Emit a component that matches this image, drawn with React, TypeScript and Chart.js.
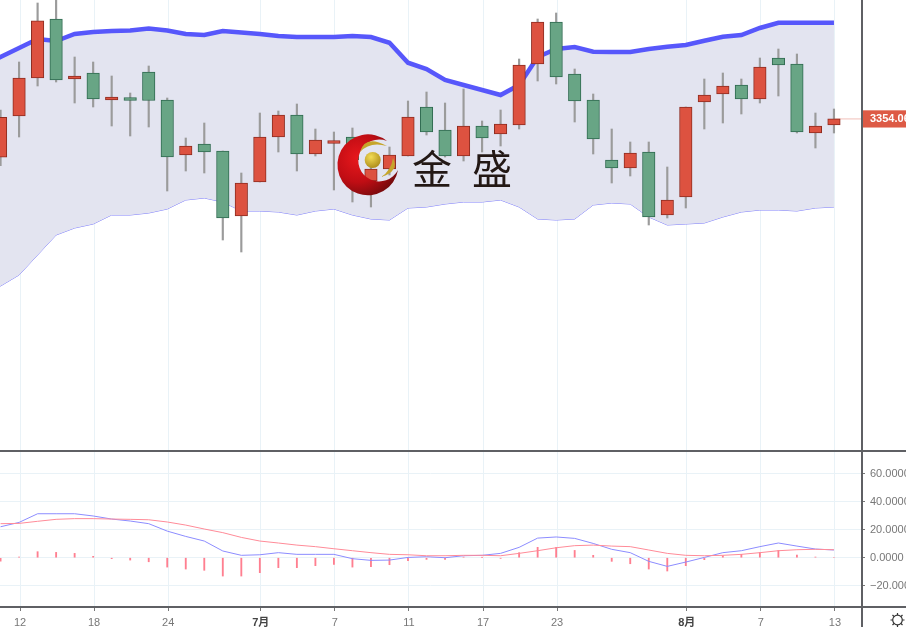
import React, { useEffect, useRef } from "react";
import { Chart, registerables } from "chart.js";

Chart.register(...registerables);

const opens = [3323.4, 3356.4, 3386.8, 3434.0, 3386.0, 3390.8, 3369.2, 3370.8, 3391.6, 3369.2, 3325.2, 3334.0, 3328.4, 3276.4, 3303.6, 3339.6, 3357.2, 3326.0, 3334.4, 3339.6, 3304.4, 3314.0, 3324.4, 3363.6, 3345.2, 3324.4, 3348.4, 3342.0, 3349.2, 3398.0, 3431.6, 3390.0, 3369.2, 3321.2, 3314.8, 3327.6, 3277.2, 3291.6, 3367.6, 3374.0, 3381.2, 3370.0, 3402.8, 3398.0, 3342.8, 3349.2];
const closes = [3355.4, 3386.8, 3432.6, 3385.2, 3388.4, 3370.0, 3370.8, 3368.8, 3368.8, 3323.6, 3332.4, 3327.6, 3274.8, 3302.8, 3339.6, 3357.2, 3326.0, 3337.2, 3336.4, 3321.2, 3314.0, 3325.2, 3355.6, 3343.6, 3324.4, 3348.4, 3338.8, 3350.0, 3397.2, 3431.6, 3387.6, 3368.4, 3338.0, 3314.8, 3326.8, 3275.6, 3289.2, 3363.6, 3373.2, 3380.4, 3370.0, 3395.6, 3397.2, 3343.6, 3348.4, 3354.06];
const highs = [3361.2, 3399.6, 3446.8, 3453.2, 3403.6, 3399.6, 3388.4, 3374.8, 3396.4, 3370.8, 3338.8, 3350.8, 3328.4, 3310.8, 3358.8, 3360.4, 3366.0, 3346.0, 3343.6, 3346.8, 3325.2, 3331.6, 3368.4, 3375.6, 3366.8, 3378.0, 3352.4, 3361.2, 3402.0, 3434.0, 3438.8, 3394.0, 3374.0, 3346.0, 3335.6, 3335.6, 3315.6, 3363.6, 3386.0, 3390.8, 3386.0, 3402.8, 3410.0, 3406.0, 3358.8, 3362.0];
const lows = [3316.6, 3339.6, 3380.4, 3383.6, 3366.8, 3363.6, 3348.4, 3340.4, 3347.6, 3296.4, 3312.4, 3310.8, 3257.2, 3247.6, 3303.6, 3327.6, 3312.4, 3324.4, 3297.2, 3287.6, 3283.6, 3309.2, 3324.4, 3341.2, 3323.6, 3320.4, 3327.6, 3332.4, 3346.0, 3384.4, 3382.0, 3351.6, 3326.0, 3302.8, 3308.4, 3269.2, 3274.8, 3282.8, 3346.0, 3350.8, 3358.0, 3366.8, 3372.4, 3342.8, 3330.8, 3342.8];

// The three band lists start one session before the first candle, which is just off the left edge.
const bollUpper = [3397.0, 3403.6, 3410.8, 3418.0, 3416.4, 3422.0, 3423.6, 3424.4, 3424.8, 3426.4, 3424.8, 3422.0, 3421.2, 3424.4, 3423.2, 3422.0, 3420.4, 3419.6, 3419.6, 3419.6, 3420.4, 3419.6, 3415.0, 3399.0, 3394.0, 3385.2, 3381.2, 3377.2, 3373.2, 3381.2, 3403.6, 3410.0, 3411.6, 3407.8, 3407.6, 3407.6, 3410.0, 3411.8, 3413.2, 3416.6, 3419.8, 3421.2, 3426.8, 3431.0, 3431.0, 3431.0, 3431.0];
const bollLower = [3212.0, 3220.4, 3229.2, 3245.2, 3261.2, 3266.8, 3270.0, 3277.2, 3277.2, 3278.8, 3282.0, 3289.2, 3290.8, 3287.6, 3280.4, 3280.4, 3279.6, 3277.2, 3280.4, 3282.0, 3277.2, 3274.0, 3273.2, 3282.8, 3283.6, 3286.0, 3287.6, 3287.6, 3289.2, 3283.6, 3274.0, 3273.2, 3274.0, 3285.2, 3286.8, 3286.0, 3275.6, 3269.2, 3270.0, 3270.8, 3275.6, 3279.6, 3281.2, 3281.2, 3280.4, 3282.8, 3283.6];
const bollMid = [3304.0, 3311.6, 3321.2, 3333.2, 3339.6, 3344.4, 3346.8, 3350.0, 3350.8, 3352.4, 3354.0, 3355.6, 3355.6, 3354.8, 3350.8, 3350.0, 3350.0, 3349.2, 3350.0, 3350.0, 3349.2, 3346.8, 3344.4, 3341.2, 3338.8, 3335.6, 3334.8, 3332.4, 3331.6, 3332.4, 3337.2, 3340.4, 3342.8, 3346.0, 3346.6, 3346.6, 3342.0, 3340.4, 3341.2, 3343.6, 3347.6, 3351.6, 3354.0, 3355.6, 3356.4, 3357.2, 3357.2];

const macdDif = [22.1, 25.2, 31.4, 31.4, 31.4, 29.8, 27.6, 26.2, 24.3, 19.0, 15.2, 11.9, 4.8, 1.7, 2.1, 3.6, 2.4, 2.4, 2.4, -0.7, -1.9, -1.7, 0.2, 0.7, 0.0, 1.4, 1.7, 3.1, 7.4, 14.0, 14.8, 13.8, 10.2, 6.0, 3.6, -2.6, -6.2, -3.1, 0.2, 3.6, 5.0, 7.9, 10.5, 8.3, 6.2, 5.5];
const macdDea = [24.3, 24.5, 26.0, 27.4, 27.9, 27.9, 27.6, 27.4, 27.1, 25.5, 23.3, 20.5, 17.9, 14.5, 11.9, 10.5, 9.0, 7.9, 6.4, 5.0, 3.6, 2.4, 2.1, 1.4, 1.4, 1.7, 1.7, 1.4, 3.1, 5.0, 7.1, 8.6, 9.0, 8.3, 7.9, 5.5, 3.1, 1.7, 1.4, 1.7, 2.4, 3.6, 5.0, 5.7, 6.0, 5.7];
const macdHist = [-2.4, 0.5, 4.3, 3.8, 3.1, 1.0, -0.7, -1.7, -2.9, -6.7, -8.1, -9.0, -13.1, -13.1, -10.7, -7.1, -7.1, -5.7, -4.8, -6.7, -6.4, -5.0, -2.1, -1.2, -1.2, 0.5, 0.2, -0.5, 3.6, 7.4, 7.4, 5.2, 1.7, -2.6, -4.3, -8.1, -9.5, -5.7, -1.4, 1.4, 2.4, 3.8, 5.2, 1.9, 0.5, 0.0];

const tickIndexes = [1, 5, 9, 14, 18, 22, 26, 30, 37, 41, 45];
const tickLabels = ["12", "18", "24", "7月", "7", "11", "17", "23", "8月", "7", "13"];
const macdTicks = [60, 40, 20, 0, -20];

const RED = "#dd5240";
const RED_EDGE = "#8e2c20";
const GREEN = "#68a585";
const GREEN_EDGE = "#2f6a50";
const FONT = "Arial, 'Liberation Sans', 'Noto Sans CJK SC', sans-serif";
const GRID = "#e9f2f7";

const fitRightAxis = (scale: any) => {
  scale.width = 45;
  scale.paddingTop = 0;
  scale.paddingBottom = 0;
  scale.paddingLeft = 0;
  scale.paddingRight = 0;
};
const xBounds = { min: -0.03, max: 46.46 };
const series = (values: number[], start = 0) => values.map((y, i) => ({ x: i + start, y }));
const xTicks = (scale: any) => {
  scale.ticks = tickIndexes.map((value) => ({ value: value + 0.05 }));
};

export default function App() {
  const priceRef = useRef<HTMLCanvasElement>(null);
  const macdRef = useRef<HTMLCanvasElement>(null);

  useEffect(() => {
    document.body.style.margin = "0";
    const last = closes[closes.length - 1];
    const isUp = closes.map((c, i) => c >= opens[i]);
    const price = new Chart(priceRef.current as HTMLCanvasElement, {
      type: "bar",
      data: {
        datasets: [
          {
            type: "line",
            data: series(bollUpper, -1),
            borderColor: "#5757fb",
            borderWidth: 4.5,
            pointRadius: 0,
            tension: 0,
            backgroundColor: "#e3e4f0",
            fill: "+1",
            order: 6,
          },
          {
            type: "line",
            data: series(bollLower, -1),
            borderColor: "#7f7ffb",
            borderWidth: 1,
            pointRadius: 0,
            tension: 0,
            fill: false,
            order: 7,
          },
          {
            type: "line",
            data: series(bollMid, -1),
            borderColor: "#9fe3cf",
            borderWidth: 1,
            pointRadius: 0,
            tension: 0,
            fill: false,
            order: 8,
          },
          {
            type: "line",
            data: [
              { x: xBounds.min, y: last },
              { x: xBounds.max, y: last },
            ],
            borderColor: "rgba(225,110,95,0.45)",
            borderWidth: 1,
            pointRadius: 0,
            fill: false,
            order: 9,
          },
          {
            type: "bar",
            data: lows.map((l, x) => ({ x, y: [l, highs[x]] })),
            backgroundColor: "#9b9b9b",
            barThickness: 1.5,
            grouped: false,
            order: 5,
          },
          {
            type: "bar",
            data: opens.map((o, x) => ({ x, y: [Math.min(o, closes[x]), Math.max(o, closes[x])] })),
            backgroundColor: isUp.map((u) => (u ? RED : GREEN)),
            borderColor: isUp.map((u) => (u ? RED_EDGE : GREEN_EDGE)),
            borderWidth: 1,
            borderSkipped: false,
            barThickness: 12.5,
            minBarLength: 3,
            grouped: false,
            order: 4,
          },
        ] as any,
      },
      options: {
        animation: false,
        responsive: false,
        layout: { padding: 0 },
        plugins: { legend: { display: false }, tooltip: { enabled: false } },
        scales: {
          x: {
            type: "linear",
            ...xBounds,
            offset: false,
            grid: { color: GRID, drawTicks: false, offset: false },
            border: { display: false },
            ticks: { display: false },
            afterBuildTicks: xTicks,
            afterFit: (s: any) => {
              s.height = 0;
              s.paddingLeft = 0;
              s.paddingRight = 0;
            },
          },
          y: {
            position: "right",
            min: 3089.2,
            max: 3449.2,
            grid: { display: false, drawTicks: false },
            border: { display: false },
            afterBuildTicks: (s: any) => {
              s.ticks = [{ value: last }];
            },
            afterFit: fitRightAxis,
            ticks: {
              padding: 9,
              color: "#ffffff",
              font: { family: FONT, size: 11, weight: "bold" },
              showLabelBackdrop: true,
              backdropColor: "#dd5a45",
              backdropPadding: { top: 2, bottom: 2, left: 8, right: 8 },
              callback: (v: any) => Number(v).toFixed(2),
            },
          },
        } as any,
      },
    });

    const macd = new Chart(macdRef.current as HTMLCanvasElement, {
      type: "bar",
      data: {
        datasets: [
          {
            type: "line",
            data: series(macdDea),
            borderColor: "#ff8b98",
            borderWidth: 1,
            pointRadius: 0,
            tension: 0,
            fill: false,
            order: 2,
          },
          {
            type: "line",
            data: series(macdDif),
            borderColor: "#8c8cff",
            borderWidth: 1,
            pointRadius: 0,
            tension: 0,
            fill: false,
            order: 3,
          },
          {
            type: "bar",
            data: series(macdHist),
            backgroundColor: "#ff7f90",
            barThickness: 1.2,
            grouped: false,
            order: 4,
          },
        ] as any,
      },
      options: {
        animation: false,
        responsive: false,
        layout: { padding: 0 },
        plugins: { legend: { display: false }, tooltip: { enabled: false } },
        scales: {
          x: {
            type: "linear",
            ...xBounds,
            offset: false,
            grid: { color: GRID, tickColor: "#777777", tickLength: 4, offset: false },
            border: { display: false },
            afterBuildTicks: xTicks,
            afterFit: (s: any) => {
              s.height = 20;
              s.paddingLeft = 0;
              s.paddingRight = 0;
            },
            ticks: {
              autoSkip: false,
              maxRotation: 0,
              padding: 5,
              color: (ctx: any) => (String(tickLabels[ctx.index]).includes("月") ? "#444444" : "#777777"),
              font: (ctx: any) => ({
                family: FONT,
                size: 11,
                weight: String(tickLabels[ctx.index]).includes("月") ? "bold" : "normal",
              }),
              callback: (_v: any, i: number) => tickLabels[i],
            },
          },
          y: {
            position: "right",
            min: -35.2,
            max: 76.2,
            grid: { color: GRID, tickColor: "#777777", tickLength: 4 },
            border: { display: false },
            afterBuildTicks: (s: any) => {
              s.ticks = macdTicks.map((value) => ({ value }));
            },
            afterFit: fitRightAxis,
            ticks: {
              padding: 5,
              color: "#777777",
              font: { family: FONT, size: 11 },
              callback: (v: any) => (Number(v) < 0 ? "\u2212" + Math.abs(Number(v)).toFixed(4) : Number(v).toFixed(4)),
            },
          },
        } as any,
      },
    });
    return () => {
      price.destroy();
      macd.destroy();
    };
  }, []);

  const abs = (left: number, top: number, width: number, height: number, extra: any = {}) => ({
    position: "absolute" as const,
    left,
    top,
    width,
    height,
    ...extra,
  });

  return (
    <div style={abs(0, 0, 906, 627, { overflow: "hidden", background: "#fff", filter: "blur(0.45px)" })}>
      <canvas ref={priceRef} width={906} height={450} style={abs(0, 0, 906, 450, { display: "block" })} />
      <canvas ref={macdRef} width={906} height={176} style={abs(0, 451, 906, 176, { display: "block" })} />
      <div style={abs(0, 450, 906, 2, { background: "#5f6064" })} />
      <div style={abs(0, 606, 906, 1.5, { background: "#5f6064" })} />
      <div style={abs(861, 0, 1.5, 627, { background: "#5f6064" })} />
      <svg width={906} height={627} style={abs(0, 0, 906, 627, { pointerEvents: "none" })}>
        <defs>
          <radialGradient id="logoRed" gradientUnits="userSpaceOnUse" cx="358" cy="158" r="44">
            <stop offset="0" stopColor="#e8181c" />
            <stop offset="0.55" stopColor="#c00d14" />
            <stop offset="1" stopColor="#6e0a0c" />
          </radialGradient>
          <radialGradient id="logoGold" gradientUnits="userSpaceOnUse" cx="371" cy="157" r="11">
            <stop offset="0" stopColor="#f3dc55" />
            <stop offset="1" stopColor="#b08f1c" />
          </radialGradient>
        </defs>
        <path d="M387 141 A30.5 30.5 0 1 0 398 170 A21 21 0 1 1 387 141 Z" fill="url(#logoRed)" />
        <circle cx="372.7" cy="160" r="8" fill="url(#logoGold)" />
        <path d="M360 152 Q365 134 387 146 Q370 141 360 152 Z" fill="#c6a52a" />
        <path d="M381 177 Q391 171 393 158 Q400 171 381 177 Z" fill="#c6a52a" />
        <g stroke="#333" fill="none" strokeWidth="1.2">
          <circle cx="897.5" cy="620" r="4.8" />
          <path d="M897.5 613v2M897.5 625v2M890.5 620h2M902.5 620h2M892.5 615l1.5 1.5M901 623.5l1.5 1.5M892.5 625l1.5 -1.5M901 616.5l1.5 -1.5" />
        </g>
      </svg>
      <div
        style={abs(412, 145, 110, 44, {
          fontFamily: "'Noto Sans CJK SC', sans-serif",
          fontSize: 40,
          lineHeight: "44px",
          letterSpacing: 20,
          color: "#231815",
          whiteSpace: "nowrap",
        })}
      >
        金盛
      </div>
    </div>
  );
}
